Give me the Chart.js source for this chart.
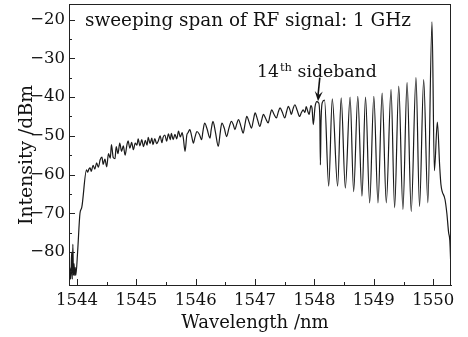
<!DOCTYPE html>
<html><head><meta charset="utf-8">
<script src="https://cdn.jsdelivr.net/npm/chart.js@4.4.1/dist/chart.umd.min.js"></script>
<style>html,body{margin:0;padding:0;background:#fff}#wrap{width:468px;height:337px}</style>
</head><body><div id="wrap"><canvas id="c" width="468" height="337"></canvas></div>
<script>
const wavelength = [
1543.87,1543.88,1543.89,1543.90,1543.91,1543.92,1543.93,1543.94,1543.95,1543.96,1543.97,1543.98,
1544.01,1544.05,1544.08,1544.16,1544.18,1544.20,1544.22,1544.24,1544.27,1544.30,1544.33,1544.36,
1544.39,1544.42,1544.44,1544.47,1544.50,1544.53,1544.56,1544.58,1544.61,1544.64,1544.66,1544.69,
1544.72,1544.75,1544.78,1544.81,1544.84,1544.86,1544.89,1544.92,1544.95,1544.98,1545.01,1545.03,
1545.06,1545.09,1545.12,1545.15,1545.18,1545.20,1545.23,1545.26,1545.28,1545.31,1545.34,1545.37,
1545.40,1545.43,1545.45,1545.48,1545.51,1545.54,1545.57,1545.59,1545.62,1545.65,1545.68,1545.71,
1545.74,1545.77,1545.79,1545.82,1545.85,1545.87,1545.90,1545.93,1545.96,1545.99,1546.02,1546.06,
1546.10,1546.12,1546.15,1546.19,1546.24,1546.26,1546.29,1546.33,1546.38,1546.41,1546.44,1546.48,
1546.52,1546.56,1546.60,1546.63,1546.66,1546.69,1546.72,1546.76,1546.80,1546.83,1546.86,1546.90,
1546.94,1546.97,1547.00,1547.04,1547.08,1547.11,1547.14,1547.18,1547.22,1547.25,1547.28,1547.32,
1547.36,1547.39,1547.42,1547.46,1547.50,1547.53,1547.56,1547.59,1547.61,1547.64,1547.67,1547.71,
1547.75,1547.78,1547.81,1547.84,1547.86,1547.89,1547.91,1547.94,1547.96,1547.98,1548.01,1548.04,
1548.07,1548.09,1548.10,1548.11,1548.13,1548.17,1548.24,1548.30,1548.39,1548.45,1548.52,1548.60,
1548.66,1548.73,1548.80,1548.86,1548.93,1549.00,1549.07,1549.14,1549.21,1549.29,1549.35,1549.42,
1549.49,1549.56,1549.63,1549.71,1549.77,1549.84,1549.91,1549.98,1550.02,1550.07,1550.11,1550.13,
1550.20,1550.23,1550.26,1550.28,1550.30
];
const intensity = [
-86,-84,-87,-85,-80,-87,-78,-86,-83,-86,-84,-86,
-80,-70,-68.5,-58.8,-59.4,-58.6,-58.3,-59.2,-57.6,-58.6,-57.0,-58.1,
-56.2,-55.5,-57.4,-56.0,-58.0,-54.6,-55.8,-52.3,-55.6,-55.9,-52.8,-54.6,
-51.9,-54.0,-52.6,-55.0,-52.4,-51.3,-53.2,-51.7,-53.6,-51.9,-52.4,-50.8,
-52.6,-51.0,-52.8,-51.2,-52.4,-50.4,-52.0,-50.6,-52.3,-50.7,-52.0,-51.3,
-50.0,-51.8,-50.4,-49.8,-51.4,-49.5,-51.0,-49.4,-51.0,-49.6,-50.8,-48.8,
-50.3,-49.2,-50.5,-54.0,-49.8,-49.2,-48.4,-50.0,-51.9,-50.2,-48.9,-49.6,
-51.0,-49.0,-46.7,-48.2,-50.6,-48.5,-46.3,-48.9,-52.7,-49.5,-46.7,-48.0,
-50.2,-48.0,-46.3,-47.0,-48.4,-47.0,-45.8,-47.5,-49.3,-47.0,-45.0,-46.5,
-48.0,-46.0,-44.1,-45.8,-47.6,-46.0,-44.5,-45.6,-46.7,-44.8,-43.3,-44.5,
-45.4,-43.9,-42.8,-44.0,-45.4,-43.8,-42.4,-43.5,-44.5,-43.0,-42.0,-43.5,
-45.0,-44.0,-43.3,-44.0,-42.5,-43.8,-44.5,-42.2,-43.0,-47.1,-42.5,-41.2,
-41.5,-45,-57.5,-47,-41.5,-40.8,-63,-40.5,-63,-40.2,-63.5,-40.0,
-64.4,-39.8,-65.6,-40.0,-67.3,-39.8,-67.3,-39.0,-67.3,-38.0,-68.6,-37.2,
-69.0,-36.3,-69.5,-35.0,-68.2,-35.5,-67.3,-20.6,-59,-46.5,-58,-62.5,
-66.5,-70,-75,-77,-85
];
const xTickValues = [1544,1545,1546,1547,1548,1549,1550];
const yTickValues = [-80,-70,-60,-50,-40,-30,-20];

const FONT = '"DejaVu Serif", "Liberation Serif", serif';

const decor = {
  id: 'decor',
  afterDraw(chart) {
    const ctx = chart.ctx, a = chart.chartArea;
    const xs = chart.scales.x, ys = chart.scales.y;
    ctx.save();
    ctx.strokeStyle = '#222'; ctx.lineWidth = 1;
    ctx.strokeRect(a.left + 0.5, a.top + 0.5, a.right - a.left - 1, a.bottom - a.top);
    ctx.beginPath();
    xs.ticks.forEach(t => {
      const p = Math.round(xs.getPixelForValue(t.value)) + 0.5;
      ctx.moveTo(p, a.bottom); ctx.lineTo(p, a.bottom - 6);
      const m = t.value + 0.5;
      if (m < xs.max) { const q = Math.round(xs.getPixelForValue(m)) + 0.5; ctx.moveTo(q, a.bottom); ctx.lineTo(q, a.bottom - 3); }
    });
    ys.ticks.forEach(t => {
      const p = Math.round(ys.getPixelForValue(t.value)) + 0.5;
      ctx.moveTo(a.left, p); ctx.lineTo(a.left + 6, p);
      const m = t.value - 5;
      if (m > ys.min) { const q = Math.round(ys.getPixelForValue(m)) + 0.5; ctx.moveTo(a.left, q); ctx.lineTo(a.left + 3, q); }
    });
    ctx.stroke();

    ctx.fillStyle = '#111';
    ctx.font = '18.4px ' + FONT;
    ctx.textBaseline = 'alphabetic';
    ctx.textAlign = 'left';
    ctx.fillText('sweeping span of RF signal: 1 GHz', 85, 26);

    // axis titles
    ctx.textAlign = 'center';
    ctx.font = '18px ' + FONT;
    ctx.fillText('Wavelength /nm', 255, 328);
    ctx.save();
    ctx.translate(32, 155); ctx.rotate(-Math.PI / 2);
    ctx.font = '18.8px ' + FONT;
    ctx.fillText('Intensity /dBm', 0, 0);
    ctx.restore();

    // sideband label
    ctx.textAlign = 'left';
    let x0 = 257, yb = 77;
    ctx.font = '17.3px ' + FONT;
    ctx.fillText('14', x0, yb);
    let w = ctx.measureText('14').width;
    ctx.font = '11.5px ' + FONT;
    ctx.fillText('th', x0 + w + 1, yb - 6);
    let w2 = ctx.measureText('th').width;
    ctx.font = '17.3px ' + FONT;
    ctx.fillText(' sideband', x0 + w + w2 + 1, yb);

    // arrow
    const ax0 = xs.getPixelForValue(1548.09), ay0 = ys.getPixelForValue(-35.0);
    const ax1 = xs.getPixelForValue(1548.06), ay1 = ys.getPixelForValue(-41.1);
    ctx.strokeStyle = '#111'; ctx.lineWidth = 1.6;
    ctx.beginPath(); ctx.moveTo(ax0, ay0); ctx.lineTo(ax1, ay1 - 6); ctx.stroke();
    const ang = Math.atan2(ay1 - ay0, ax1 - ax0);
    ctx.beginPath();
    ctx.moveTo(ax1, ay1);
    ctx.lineTo(ax1 - 10 * Math.cos(ang) + 4 * Math.sin(ang), ay1 - 10 * Math.sin(ang) - 4 * Math.cos(ang));
    ctx.lineTo(ax1 - 6 * Math.cos(ang), ay1 - 6 * Math.sin(ang));
    ctx.lineTo(ax1 - 10 * Math.cos(ang) - 4 * Math.sin(ang), ay1 - 10 * Math.sin(ang) + 4 * Math.cos(ang));
    ctx.closePath(); ctx.fill();
    ctx.restore();
  }
};

new Chart(document.getElementById('c'), {
  type: 'line',
  data: { datasets: [{
    data: wavelength.map((w, i) => ({ x: w, y: intensity[i] })),
    borderColor: '#1a1a1a', borderWidth: 1.2, pointRadius: 0,
    cubicInterpolationMode: 'monotone', fill: false
  }]},
  options: {
    responsive: false, animation: false, devicePixelRatio: 1,
    layout: { padding: { top: 4, right: 17, left: 0, bottom: 0 } },
    plugins: { legend: { display: false }, tooltip: { enabled: false } },
    scales: {
      x: {
        type: 'linear', min: 1543.865, max: 1550.30,
        grid: { display: false, drawTicks: false },
        border: { display: true, color: '#222' },
        afterBuildTicks: s => { s.ticks = xTickValues.map(v => ({ value: v })); },
        afterFit: s => { s.height = 52; s.paddingLeft = 0; s.paddingRight = 0; },
        ticks: { color: '#111', padding: 6, maxRotation: 0, autoSkip: false,
          font: { family: FONT, size: 16.5 }, callback: v => String(v) }
      },
      y: {
        min: -88.5, max: -16,
        grid: { display: false, drawTicks: false },
        border: { display: true, color: '#222' },
        afterBuildTicks: s => { s.ticks = yTickValues.map(v => ({ value: v })); },
        afterFit: s => { s.width = 69; s.paddingTop = 0; s.paddingBottom = 0; },
        ticks: { color: '#111', padding: 4, autoSkip: false,
          font: { family: FONT, size: 16.5, lineHeight: 0.5 }, callback: v => '\u2212' + Math.abs(v) }
      }
    }
  },
  plugins: [decor]
});
</script>
</body></html>
